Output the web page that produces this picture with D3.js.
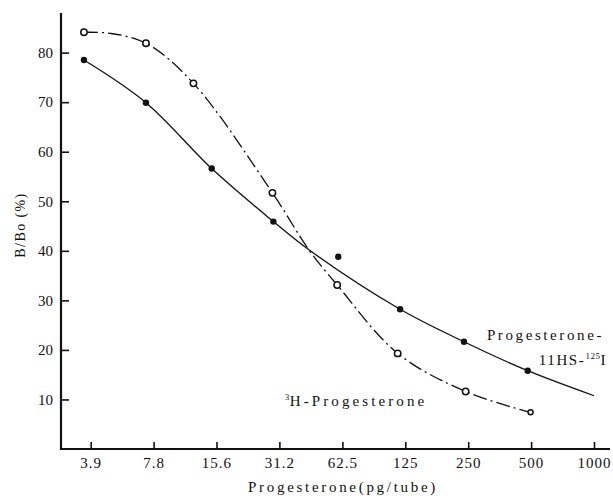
<!DOCTYPE html>
<meta charset="UTF-8">
<style>
body { margin: 0; background: #fff; }
svg text { font-family: "Liberation Serif", "DejaVu Serif", serif; fill: #111; }
.axis path { display: none; }
.axis line { stroke: #111; stroke-width: 1.6px; }
.fit { fill: none; stroke: #111; stroke-width: 1.3px; }
</style>
<body>
<script src="https://d3js.org/d3.v7.min.js"></script>
<script>
// dose ticks on the x axis (pg/tube)
var doseTicks = [3.9, 7.8, 15.6, 31.2, 62.5, 125, 250, 500, 1000];
var doseLabels = ["3.9", "7.8", "15.6", "31.2", "62.5", "125", "250", "500", "1000"];
var bboTicks = [10, 20, 30, 40, 50, 60, 70, 80];

// Progesterone-11HS-125I (filled dots)
var iodX = [3.62, 7.17, 14.8, 29.2, 59.7, 118, 238.6, 481.6];
var iodY = [78.5, 69.9, 56.6, 45.9, 38.8, 28.2, 21.65, 15.8];
// its drawn fit line
var iodFitX = [3.62, 7.17, 14.8, 29.2, 43.2, 118, 238.6, 481.6, 1000];
var iodFitY = [78.5, 69.9, 56.6, 45.9, 40.2, 28.2, 21.65, 15.8, 10.75];

// 3H-Progesterone (open dots)
var triX = [3.62, 7.17, 12.1, 28.9, 59, 114.9, 243, 497];
var triY = [84.1, 81.9, 73.8, 51.7, 33.1, 19.3, 11.6, 7.4];
// its drawn fit line
var triFitX = [3.62, 4.82, 7.17, 12.1, 28.9, 43.2, 59, 114.9, 243, 497];
var triFitY = [84.1, 83.9, 81.9, 73.8, 51.7, 40.2, 33.1, 19.3, 11.6, 7.4];

var width = 613, height = 498;

var svg = d3.select("body").append("svg")
    .attr("width", width)
    .attr("height", height);

var x = d3.scaleLog().base(2)
    .domain([3.9, 1000])
    .range([90.7, 594]);

var y = d3.scaleLinear()
    .domain([0, 88])
    .range([449, 13]);

// axis lines
svg.append("line")
    .attr("x1", 61).attr("x2", 61)
    .attr("y1", y(88)).attr("y2", y(0) + 1)
    .attr("stroke", "#111").attr("stroke-width", 2.2);
svg.append("line")
    .attr("x1", 60).attr("x2", 610)
    .attr("y1", y(0)).attr("y2", y(0))
    .attr("stroke", "#111").attr("stroke-width", 2.2);

// y axis ticks (pointing into the plot)
var yAxis = svg.append("g")
    .attr("class", "axis")
    .attr("transform", "translate(61,0)")
    .call(d3.axisLeft(y).tickValues(bboTicks).tickSize(-8).tickPadding(8));
yAxis.selectAll("text")
    .style("font-size", "15px");

// x axis ticks (pointing up)
var xAxis = svg.append("g")
    .attr("class", "axis")
    .attr("transform", "translate(0," + y(0) + ")")
    .call(d3.axisBottom(x).tickValues(doseTicks)
        .tickFormat(function(d, i) { return doseLabels[i]; })
        .tickSize(-7).tickPadding(8));
xAxis.selectAll("text")
    .style("font-size", "15px")
    .style("letter-spacing", "1px");

// axis titles
svg.append("text")
    .attr("transform", "translate(25,225) rotate(-90)")
    .attr("text-anchor", "middle")
    .style("font-size", "14px")
    .style("letter-spacing", "1.4px")
    .text("B/Bo (%)");

svg.append("text")
    .attr("x", 343).attr("y", 492)
    .attr("text-anchor", "middle")
    .style("font-size", "15px")
    .style("letter-spacing", "2.7px")
    .text("Progesterone(pg/tube)");

// fitted curves
var line = d3.line()
    .x(function(d) { return x(d[0]); })
    .y(function(d) { return y(d[1]); })
    .curve(d3.curveCatmullRom.alpha(0.5));

svg.append("path")
    .attr("class", "fit")
    .attr("d", line(d3.zip(iodFitX, iodFitY)));

svg.append("path")
    .attr("class", "fit")
    .attr("stroke-dasharray", "14,4,2,4")
    .attr("d", line(d3.zip(triFitX, triFitY)));

// points
svg.selectAll("circle.iod")
    .data(d3.zip(iodX, iodY))
    .enter().append("circle")
    .attr("class", "iod")
    .attr("cx", function(d) { return x(d[0]); })
    .attr("cy", function(d) { return y(d[1]); })
    .attr("r", 3.2)
    .attr("fill", "#111");

svg.selectAll("circle.tri")
    .data(d3.zip(triX, triY))
    .enter().append("circle")
    .attr("class", "tri")
    .attr("cx", function(d) { return x(d[0]); })
    .attr("cy", function(d) { return y(d[1]); })
    .attr("r", function(d, i) { return i == triX.length - 1 ? 2.5 : 3.2; })
    .attr("fill", "#fff")
    .attr("stroke", "#111")
    .attr("stroke-width", 1.5);

// curve labels
svg.append("text")
    .attr("x", 604).attr("y", 340)
    .attr("text-anchor", "end")
    .style("font-size", "15px")
    .style("letter-spacing", "2.6px")
    .text("Progesterone-");

var lab2 = svg.append("text")
    .attr("x", 607).attr("y", 365)
    .attr("text-anchor", "end")
    .style("font-size", "15px")
    .style("letter-spacing", "1.6px");
lab2.append("tspan").text("11HS-");
lab2.append("tspan").attr("dy", -6).style("font-size", "9px").style("letter-spacing", "0.5px").text("125");
lab2.append("tspan").attr("dy", 6).text("I");

var lab3 = svg.append("text")
    .attr("x", 285).attr("y", 406)
    .style("font-size", "15px")
    .style("letter-spacing", "3.1px");
lab3.append("tspan").attr("dy", -6).style("font-size", "8.5px").style("letter-spacing", "0.5px").text("3");
lab3.append("tspan").attr("dy", 6).text("H-Progesterone");
</script>
</body>
